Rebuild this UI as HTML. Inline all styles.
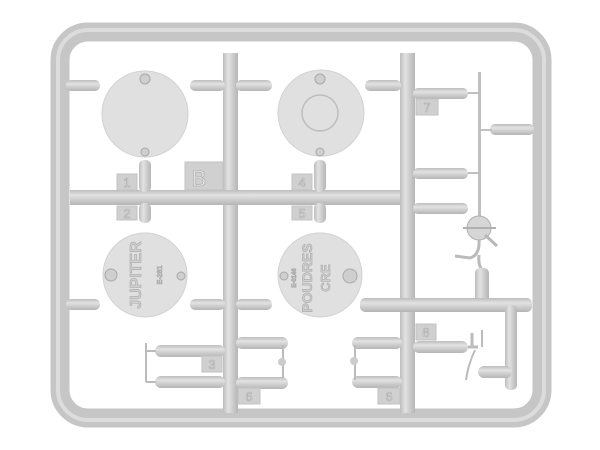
<!DOCTYPE html>
<html><head><style>html,body{margin:0;padding:0;background:#fff;}svg{display:block}</style></head>
<body>
<svg width="600" height="450" viewBox="0 0 600 450" xmlns="http://www.w3.org/2000/svg">
<defs>
<linearGradient id="h" x1="0" y1="0" x2="0" y2="1"><stop offset="0" stop-color="#bdbdbd"/><stop offset=".35" stop-color="#e2e2e2"/><stop offset="1" stop-color="#b5b5b5"/></linearGradient>
<linearGradient id="v" x1="0" y1="0" x2="1" y2="0"><stop offset="0" stop-color="#bdbdbd"/><stop offset=".35" stop-color="#e2e2e2"/><stop offset="1" stop-color="#b5b5b5"/></linearGradient>
</defs>
<g fill="none">
<rect x="60" y="32" width="482" height="386" rx="28" stroke="#c6c6c6" stroke-width="19"/>
<rect x="58" y="30" width="486" height="390" rx="30" stroke="#dcdcdc" stroke-width="4"/>
</g>
<g>
<rect x="223" y="53" width="15" height="360" fill="url(#v)"/>
<rect x="400" y="53" width="15" height="360" fill="url(#v)"/>
<rect x="70" y="190" width="330" height="15" fill="url(#h)"/>
<rect x="66" y="80" width="34" height="11" rx="5" fill="url(#h)"/>
<rect x="190" y="80" width="35" height="11" rx="5" fill="url(#h)"/>
<rect x="236" y="80" width="36" height="11" rx="5" fill="url(#h)"/>
<rect x="365" y="80" width="36" height="11" rx="5" fill="url(#h)"/>
<rect x="413" y="88" width="55" height="11" rx="5" fill="url(#h)"/>
<rect x="490" y="124" width="44" height="11" rx="5" fill="url(#h)"/>
<rect x="413" y="168" width="55" height="11" rx="5" fill="url(#h)"/>
<rect x="413" y="203" width="55" height="11" rx="5" fill="url(#h)"/>
<rect x="478" y="72" width="3" height="155" fill="#c0c0c0"/>
<line x1="468" y1="93" x2="480" y2="93" stroke="#c0c0c0" stroke-width="2"/>
<line x1="468" y1="173" x2="480" y2="173" stroke="#c0c0c0" stroke-width="2"/>
<line x1="480" y1="130" x2="492" y2="130" stroke="#c0c0c0" stroke-width="2"/>
<circle cx="479" cy="228" r="12" fill="#d6d6d6" stroke="#b0b0b0"/>
<line x1="463" y1="228" x2="496" y2="228" stroke="#b0b0b0" stroke-width="2"/>
<line x1="485" y1="235" x2="497" y2="246" stroke="#b8b8b8" stroke-width="3"/>
<path d="M479 240 Q480 255 470 258 L455 256" stroke="#bbb" stroke-width="3" fill="none"/>
<path d="M479 255 Q478 265 482 270" stroke="#bbb" stroke-width="3" fill="none"/>
<rect x="475" y="268" width="14" height="37" rx="5" fill="url(#v)"/>
<rect x="66" y="299" width="34" height="11" rx="5" fill="url(#h)"/>
<rect x="190" y="299" width="35" height="11" rx="5" fill="url(#h)"/>
<rect x="236" y="299" width="36" height="11" rx="5" fill="url(#h)"/>
<rect x="360" y="298" width="172" height="14" rx="5" fill="url(#h)"/>
<rect x="505" y="305" width="12" height="85" rx="5" fill="url(#v)"/>
<rect x="155" y="345" width="70" height="12" rx="6" fill="url(#h)"/>
<rect x="155" y="376" width="70" height="12" rx="6" fill="url(#h)"/>
<rect x="236" y="337" width="52" height="12" rx="6" fill="url(#h)"/>
<rect x="236" y="377" width="52" height="12" rx="6" fill="url(#h)"/>
<line x1="146" y1="343" x2="146" y2="382" stroke="#bbb" stroke-width="2"/>
<line x1="146" y1="351" x2="156" y2="351" stroke="#bbb" stroke-width="2"/>
<line x1="146" y1="382" x2="156" y2="382" stroke="#bbb" stroke-width="2"/>
<line x1="283" y1="345" x2="283" y2="378" stroke="#bbb" stroke-width="2"/>
<circle cx="282" cy="362" r="4" fill="#ccc"/>
<rect x="352" y="337" width="50" height="12" rx="6" fill="url(#h)"/>
<rect x="352" y="376" width="50" height="12" rx="6" fill="url(#h)"/>
<rect x="413" y="341" width="55" height="12" rx="6" fill="url(#h)"/>
<line x1="355" y1="345" x2="355" y2="380" stroke="#bbb" stroke-width="2"/>
<circle cx="354" cy="361" r="4" fill="#ccc"/>
<line x1="468" y1="347" x2="478" y2="347" stroke="#bbb" stroke-width="3"/>
<line x1="472" y1="333" x2="472" y2="347" stroke="#bbb" stroke-width="3"/>
<line x1="482" y1="330" x2="482" y2="347" stroke="#bbb" stroke-width="2"/>
<path d="M475 350 Q468 365 466 380" stroke="#bbb" stroke-width="2" fill="none"/>
<rect x="478" y="366" width="34" height="12" rx="6" fill="url(#h)"/>
</g>
<g fill="#e0e0e0" stroke="#d2d2d2">
<circle cx="145" cy="114" r="43"/>
<circle cx="321" cy="113" r="43"/>
<circle cx="145" cy="275" r="42"/>
<circle cx="320" cy="275" r="42"/>
</g>
<circle cx="320" cy="113" r="18" fill="none" stroke="#bdbdbd" stroke-width="1.5"/>
<g fill="#cfcfcf" stroke="#a8a8a8">
<circle cx="145" cy="79" r="5"/><circle cx="145" cy="152" r="4"/>
<circle cx="320" cy="79" r="5"/><circle cx="320" cy="152" r="4"/>
<circle cx="111" cy="275" r="6"/><circle cx="181" cy="276" r="4"/>
<circle cx="350" cy="276" r="7"/><circle cx="284" cy="276" r="4"/>
</g>
<rect x="139" y="160" width="12" height="32" rx="5" fill="url(#v)"/>
<rect x="139" y="203" width="12" height="20" rx="5" fill="url(#v)"/>
<rect x="314" y="160" width="12" height="32" rx="5" fill="url(#v)"/>
<rect x="314" y="203" width="12" height="20" rx="5" fill="url(#v)"/>
<g font-family="Liberation Sans, sans-serif" fill="#d0d0d0" stroke="#a8a8a8" stroke-width=".6" font-weight="bold">
<text transform="translate(141,275) rotate(-90)" font-size="16" text-anchor="middle">JUPITER</text>
<text transform="translate(162,275) rotate(-90)" font-size="7" text-anchor="middle">E-281</text>
<text transform="translate(312,278) rotate(-90)" font-size="14" text-anchor="middle">POUDRES</text>
<text transform="translate(330,278) rotate(-90)" font-size="13" text-anchor="middle">CRE</text>
<text transform="translate(296,278) rotate(-90)" font-size="6" text-anchor="middle">E-0146</text>
</g>
<g fill="#d0d0d0" stroke="#c2c2c2">
<rect x="117" y="174" width="20" height="16"/>
<rect x="117" y="206" width="20" height="14"/>
<rect x="185" y="162" width="38" height="28"/>
<rect x="292" y="174" width="20" height="16"/>
<rect x="292" y="206" width="20" height="14"/>
<rect x="416" y="99" width="22" height="16"/>
<rect x="202" y="356" width="20" height="16"/>
<rect x="238" y="388" width="22" height="16"/>
<rect x="416" y="324" width="20" height="16"/>
<rect x="378" y="388" width="22" height="16"/>
</g>
<g font-family="Liberation Sans, sans-serif" fill="#e4e4e4" stroke="#aaa" stroke-width=".6" font-size="13" text-anchor="middle">
<text x="127" y="187">1</text><text x="127" y="218">2</text>
<text x="199" y="186" font-size="22">B</text>
<text x="302" y="187">4</text><text x="302" y="218">5</text>
<text x="427" y="112">7</text>
<text x="212" y="369">3</text><text x="249" y="401">6</text>
<text x="426" y="337">8</text><text x="389" y="401">6</text>
</g>
</svg>
</body></html>
